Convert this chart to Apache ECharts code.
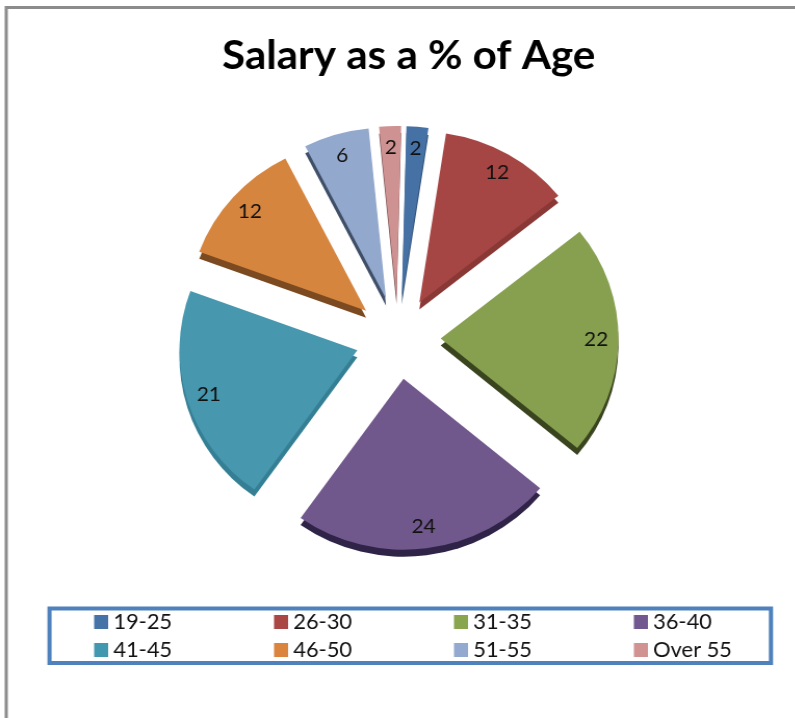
<!DOCTYPE html>
<html>
<head>
<meta charset="utf-8">
<style>html,body{margin:0;padding:0;background:#fff;overflow:hidden}
#c{width:765px;height:718px;transform:scaleX(1.04);transform-origin:0 0}</style>
<script src="https://cdn.jsdelivr.net/npm/echarts@6/dist/echarts.min.js"></script>
</head>
<body>
<div id="c"></div>
<script>
const categories = ['19-25','26-30','31-35','36-40','41-45','46-50','51-55','Over 55'];
const values = [2,12,22,24,21,12,6,2];
const colors = ['#4671a5','#a64644','#87a04f','#70578c','#4797ae','#d6853f','#93a8cd','#cd9291'];
const legendColors = ['#4572a7','#aa4643','#89a54e','#71588f','#4198af','#db843d','#93a9cf','#d19392'];
const sideColors = ['#34557c','#8a3835','#3a4520','#2f2347','#357f95','#7c4a20','#3f4f68','#7a5050'];

const font = 'Lato';
const chart = echarts.init(document.getElementById('c'), null, {renderer:'canvas'});
const CX = 382.7, CY = 338, R = 171, OFFSET = 41, DEPTH = 7;

const base = {
  type:'pie', startAngle:88.5, clockwise:true, selectedMode:'multiple', selectedOffset:OFFSET,
  animation:false, silent:true, avoidLabelOverlap:false, labelLine:{show:false}, minShowLabelAngle:0,
  emphasis:{disabled:true}
};
const makeData = (cols) => categories.map((n,i)=>({
  name:n, value:values[i], selected:true,
  itemStyle:{color:cols[i], borderWidth:0},
  select:{itemStyle:{color:cols[i], borderWidth:0}}
}));

chart.setOption({
  backgroundColor:'#fff',
  title:{
    text:'Salary as a % of Age', left:208.5, top:30,
    textStyle:{fontFamily:font, fontWeight:'bold', fontSize:40.5, color:'#000'}
  },
  legend:{
    data:categories.map((n,i)=>({name:n, itemStyle:{color:legendColors[i]},
      textStyle:{width:(i%4===3)?72:148.5}})),
    orient:'horizontal', left:90.5, top:611, width:625,
    padding:0, itemGap:6, itemWidth:13.5, itemHeight:14, icon:'rect',
    selectedMode:false,
    textStyle:{fontFamily:font, fontSize:21, color:'#111', lineHeight:22, overflow:'none'}
  },
  graphic:[{
    type:'rect', silent:true, z:0,
    shape:{x:6,y:7.5,width:1000,height:1000},
    style:{fill:'none', stroke:'#8c8c8c', lineWidth:3}
  },{
    type:'rect', silent:true, z:0,
    shape:{x:47.6,y:608.5,width:693.7,height:54.5},
    style:{fill:'none', stroke:'#4f81bd', lineWidth:4}
  }],
  series:[
    Object.assign({}, base, {name:'top', z:3, center:[CX,CY], radius:[0,R], label:{show:false}, data:makeData(colors)}),
    Object.assign({}, base, {name:'side', z:2, center:[CX,CY+DEPTH], radius:[0,R], label:{show:false}, data:makeData(sideColors)}),
    Object.assign({}, base, {name:'labels', z:4, center:[CX,CY], radius:[122,R],
      label:{show:true, position:'inside', formatter:p=>String(p.value), fontFamily:font, fontSize:20, color:'#111'},
      data:categories.map((n,i)=>({name:n, value:values[i], selected:true,
        itemStyle:{color:'rgba(0,0,0,0)'}, select:{itemStyle:{color:'rgba(0,0,0,0)'}}}))})
  ]
});
</script>
</body>
</html>
